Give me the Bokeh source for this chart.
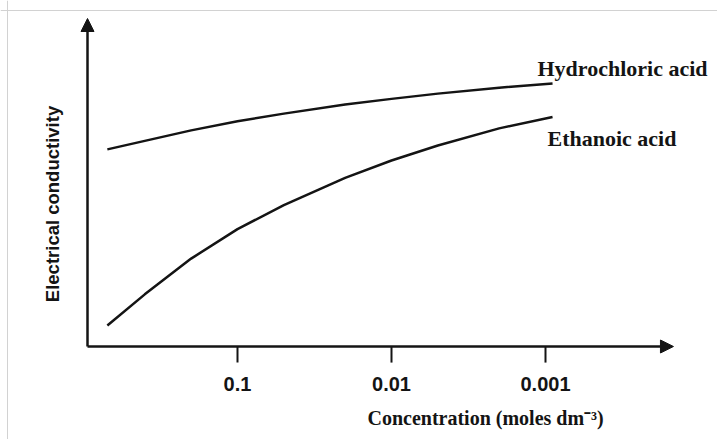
import numpy as np
from bokeh.plotting import figure
from bokeh.models import Range1d, Arrow, NormalHead, Label, Span, ColumnDataSource
from bokeh.core.properties import value
from bokeh.embed import file_html
from bokeh.resources import INLINE

# ---- data (conductivity in arbitrary units) ----
concentration = [0.7, 0.4, 0.2, 0.1, 0.05, 0.02, 0.01, 0.005, 0.002, 0.0009]
hydrochloric = [6.01, 6.27, 6.59, 6.87, 7.10, 7.38, 7.55, 7.71, 7.89, 8.02]
ethanoic = [0.64, 1.59, 2.68, 3.58, 4.31, 5.14, 5.67, 6.13, 6.65, 7.00]
tick_values = [0.1, 0.01, 0.001]
tick_labels = ["0.1", "0.01", "0.001"]

# view window (log concentration axis runs from high to low)
VIEW_X = (3.459, 7.64e-5)
VIEW_Y = (-2.835, 10.549)
AXIS_X0, AXIS_X1 = 0.9419, 1.476e-4   # origin and tip of the concentration axis
AXIS_Y0, AXIS_Y1 = 0.0, 10.0          # origin and tip of the conductivity axis
TICK_LEN = 0.49
INK = "#141414"

p = figure(width=717, height=439, output_backend="svg", toolbar_location=None,
           x_axis_type="log", x_range=Range1d(*VIEW_X), y_range=Range1d(*VIEW_Y),
           min_border=0)
p.axis.visible = False
p.grid.visible = False
p.outline_line_color = None
p.background_fill_color = "white"
p.border_fill_color = "white"

# faint frame of the scanned figure
p.add_layout(Span(location=10.244, dimension="width", line_color="#d2d2d2", line_width=1))
p.add_layout(Span(location=3.115, dimension="height", line_color="#d2d2d2", line_width=1))

# axes with arrow heads
p.add_layout(Arrow(end=NormalHead(size=13, fill_color=INK, line_color=INK),
                   x_start=AXIS_X0, y_start=AXIS_Y0, x_end=AXIS_X0, y_end=AXIS_Y1,
                   line_width=2.5, line_color=INK))
p.add_layout(Arrow(end=NormalHead(size=13, fill_color=INK, line_color=INK),
                   x_start=AXIS_X0, y_start=AXIS_Y0, x_end=AXIS_X1, y_end=AXIS_Y0,
                   line_width=2.5, line_color=INK))

# ticks and tick labels
tsrc = ColumnDataSource(dict(x=tick_values, lab=tick_labels))
p.segment(x0="x", y0=AXIS_Y0, x1="x", y1=AXIS_Y0 - TICK_LEN, source=tsrc,
          line_width=2, line_color=INK)
p.text(x="x", y=-1.128, text="lab", source=tsrc, text_font=value("Liberation Sans"),
       text_font_style="bold", text_font_size=value("20px"), text_color=INK,
       text_align="center", text_baseline="middle")

# curves
p.line(concentration, hydrochloric, line_width=2.5, line_color=INK)
p.line(concentration, ethanoic, line_width=2.5, line_color=INK)

# curve labels
p.add_layout(Label(x=0.001127, y=8.476, text="Hydrochloric acid", text_font="Liberation Serif",
                   text_font_style="bold", text_font_size="22px", text_color=INK,
                   text_align="left", text_baseline="middle"))
p.add_layout(Label(x=0.000971, y=6.341, text="Ethanoic acid", text_font="Liberation Serif",
                   text_font_style="bold", text_font_size="22px", text_color=INK,
                   text_align="left", text_baseline="middle"))

# axis titles
p.add_layout(Label(x=0.01432, y=-2.165, text="Concentration (moles dm\u207b\u00b3)",
                   text_font="Liberation Serif", text_font_style="bold", text_font_size="20px",
                   text_color=INK, text_align="left", text_baseline="middle"))
p.add_layout(Label(x=1.589, y=4.345, text="Electrical conductivity", angle=np.pi / 2,
                   text_font="Liberation Sans", text_font_style="bold", text_font_size="18.5px",
                   text_color=INK, text_align="center", text_baseline="middle"))

open("out.html", "w").write(file_html(p, INLINE))
